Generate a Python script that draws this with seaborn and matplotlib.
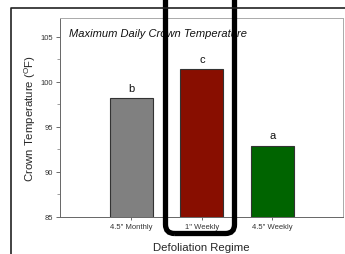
import matplotlib
matplotlib.use("Agg")
import matplotlib.pyplot as plt
import seaborn as sns
import numpy as np
from matplotlib.patches import FancyBboxPatch
from matplotlib.lines import Line2D
from matplotlib.transforms import IdentityTransform
from matplotlib.ticker import MultipleLocator

categories = ['4.5" Monthly', '1" Weekly', '4.5" Weekly']
values = [98.2, 101.4, 92.9]
letters = ["b", "c", "a"]
colors = ["#808080", "#880E00", "#006400"]
yticks = [85, 90, 95, 100, 105]

sns.set_style("ticks")
plt.rcParams['font.family'] = ['Liberation Sans', 'DejaVu Sans']

W, H = 345, 255
fig = plt.figure(figsize=(W / 100, H / 100), dpi=100)
ax = fig.add_axes([60 / W, 1 - 218 / H, (343 - 60) / W, (218 - 19) / H])

sns.barplot(x=categories, y=values, hue=categories, palette=colors, legend=False,
            width=0.61, edgecolor="#333333", linewidth=0.8, saturation=1, ax=ax)

ax.set_xlim(-1.01, 3.0)
ax.set_ylim(85, 107.1)
ax.set_yticks(yticks)
ax.yaxis.set_minor_locator(MultipleLocator(2.5))
ax.tick_params(axis="both", which="major", labelsize=5.5, length=3, width=0.6,
               color="#555555", labelcolor="#333333", pad=2)
ax.tick_params(axis="y", which="minor", length=2, width=0.5, color="#777777")
ax.tick_params(axis="x", length=2)
for s in ax.spines.values():
    s.set_visible(True)
    s.set_linewidth(0.7)
    s.set_color("#666666")
for s in ["top", "right"]:
    ax.spines[s].set_color("#aaaaaa")

for i, (v, l) in enumerate(zip(values, letters)):
    ax.text(i, v + 0.6, l, ha="center", va="bottom", fontsize=8, color="#111111")

ax.text(0.032, 0.925, "Maximum Daily Crown Temperature", transform=ax.transAxes,
        fontsize=8, style="italic", ha="left", va="center", color="#111111")

ax.set_ylabel("Crown Temperature ($^{\\mathregular{O}}$F)", fontsize=8.2, labelpad=2)
ax.set_xlabel("Defoliation Regime", fontsize=8.2, labelpad=9)

# outer frame of the screenshot
fig.add_artist(Line2D([11, 11, 346], [-2, H - 9, H - 9], transform=IdentityTransform(),
                      color="#222222", linewidth=1.2))

# highlight box around middle bar
box = FancyBboxPatch((165.5, H - 234.5), 234.5 - 165.5, 300,
                     boxstyle="round,pad=0,rounding_size=9",
                     transform=IdentityTransform(), fill=False,
                     edgecolor="black", linewidth=3.8)
fig.add_artist(box)

fig.savefig("out.png", dpi=100)
